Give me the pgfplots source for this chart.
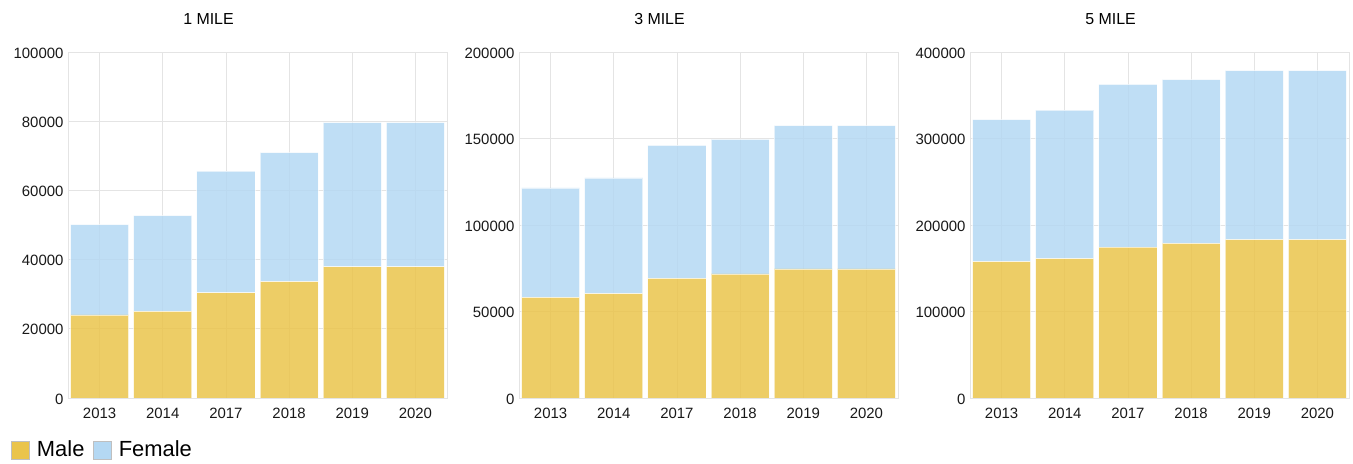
\documentclass[border=0pt]{standalone}
\usepackage{fontspec}
\setmainfont{Liberation Sans}
\usepackage{pgfplots}
\usepackage{pgfplotstable}
\pgfplotsset{compat=1.18}

\definecolor{male}{RGB}{234,196,75}
\definecolor{female}{RGB}{180,216,243}
\definecolor{gridc}{RGB}{228,228,228}

% year index, male, female
\pgfplotstableread{
x male female
0 24000 26100
1 25000 27700
2 30400 35200
3 33600 37300
4 37900 41700
5 37900 41700
}\mileone
\pgfplotstableread{
x male female
0 58200 63200
1 60300 66900
2 69200 76800
3 71700 77800
4 74600 82800
5 74600 82800
}\milethree
\pgfplotstableread{
x male female
0 157600 164100
1 161000 171900
2 174500 188100
3 178800 189200
4 183000 195400
5 183000 195400
}\milefive

\pgfplotsset{
  panel/.style={
    ybar stacked,
    scale only axis,
    width=379bp, height=346bp,
    anchor=south west,
    bar width=0.92,
    xmin=-0.5, xmax=5.5,
    ymin=0,
    xtick=data,
    xticklabels={2013,2014,2017,2018,2019,2020},
    grid=major,
    major grid style={gridc, line width=0.8bp},
    axis line style={gridc, line width=0.8bp},
    major tick length=0pt,
    scaled ticks=false,
    /pgf/number format/.cd, fixed, precision=0, set thousands separator={}, assume math mode=true,
    /pgfplots/.cd,
    tick label style={font=\fontsize{15}{17}\selectfont, text=black!90},
    xticklabel style={yshift=-7bp},
    yticklabel style={xshift=-1bp, yshift=-1bp},
    title style={anchor=base, at={(0.5,1)}, xshift=-49bp, yshift=22bp, font=\fontsize{16}{18}\selectfont},
  },
  malebar/.style={fill=male, fill opacity=0.85, draw=white, draw opacity=0.6, line width=0.8bp},
  femalebar/.style={fill=female, fill opacity=0.85, draw=white, draw opacity=0.6, line width=0.8bp},
}

\begin{document}
\begin{tikzpicture}
\useasboundingbox (0,0) rectangle (1353bp,464bp);

\begin{axis}[panel, at={(68bp,66bp)}, ymax=100000, ytick={0,20000,...,100000},
  title={1 MILE},
  legend columns=-1,
  legend style={at={(0,0)}, anchor=north west, xshift=-60bp, yshift=-38bp,
    draw=none, fill=none, font=\fontsize{22}{24}\selectfont,
    /tikz/every even column/.append style={column sep=6.5bp},
    /tikz/every odd column/.append style={column sep=5bp}},
  legend image code/.code={\draw[draw=black!25, line width=0.8bp, #1, fill opacity=1, draw opacity=1] (0bp,-11bp) rectangle (18bp,7bp);},
]
\addplot[malebar] table[x=x, y=male] {\mileone};
\addplot[femalebar] table[x=x, y=female] {\mileone};
\legend{Male, Female}
\end{axis}

\begin{axis}[panel, at={(519bp,66bp)}, ymax=200000, ytick={0,50000,...,200000},
  title={3 MILE}]
\addplot[malebar] table[x=x, y=male] {\milethree};
\addplot[femalebar] table[x=x, y=female] {\milethree};
\end{axis}

\begin{axis}[panel, at={(970bp,66bp)}, ymax=400000, ytick={0,100000,...,400000},
  title={5 MILE}]
\addplot[malebar] table[x=x, y=male] {\milefive};
\addplot[femalebar] table[x=x, y=female] {\milefive};
\end{axis}
\end{tikzpicture}
\end{document}
